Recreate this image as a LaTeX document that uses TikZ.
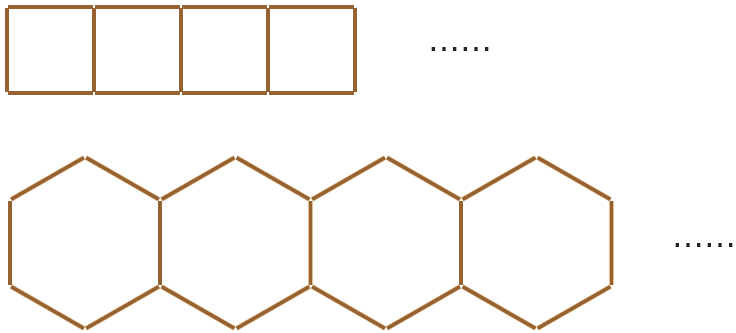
\documentclass[tikz,border=0pt]{standalone}
\usepackage{fontspec}
\usetikzlibrary{calc}
\newfontfamily\dotfont{DejaVu Sans}
\definecolor{stickcore}{RGB}{150,98,50}
\definecolor{stickedge}{RGB}{226,190,145}
\definecolor{dotgray}{RGB}{34,34,34}

\begin{document}
\begin{tikzpicture}[x=1pt,y=-1pt,
  stick/.style={line width=3.4pt,stickcore,shorten <=1.4pt,shorten >=1.4pt,
    preaction={draw,stickedge,line width=4.8pt,shorten <=1.1pt,shorten >=1.1pt}},
  dotsnode/.style={font=\dotfont\fontsize{32}{32}\selectfont,text=dotgray,inner sep=0pt,anchor=base}]
\useasboundingbox (0,0) rectangle (736,332);
% row of squares
\foreach \k in {0,...,4}{
  \coordinate (sqt\k) at (7+87*\k,7);
  \coordinate (sqb\k) at (7+87*\k,93);
  \draw[stick] (sqt\k) -- (sqb\k);
}
\foreach \k [count=\n] in {0,...,3}{
  \draw[stick] (sqt\k) -- (sqt\n);
  \draw[stick] (sqb\k) -- (sqb\n);
}
\node[dotsnode] (moresq) at (460,51.5) {……};
% row of hexagons
\foreach \k in {0,...,3}{
  \coordinate (hc\k) at (85+150.5*\k,243);
  \coordinate (ht\k) at ($(hc\k)+(0,-86)$);
  \coordinate (hur\k) at ($(hc\k)+(75,-43)$);
  \coordinate (hlr\k) at ($(hc\k)+(75,43)$);
  \coordinate (hb\k) at ($(hc\k)+(0,86)$);
  \coordinate (hll\k) at ($(hc\k)+(-75,43)$);
  \coordinate (hul\k) at ($(hc\k)+(-75,-43)$);
  \draw[stick] (hul\k) -- (ht\k);
  \draw[stick] (ht\k) -- (hur\k);
  \draw[stick] (hur\k) -- (hlr\k);
  \draw[stick] (hlr\k) -- (hb\k);
  \draw[stick] (hb\k) -- (hll\k);
}
\draw[stick] (hul0) -- (hll0);
\node[dotsnode] (morehex) at (704,247.5) {……};
\end{tikzpicture}
\end{document}
